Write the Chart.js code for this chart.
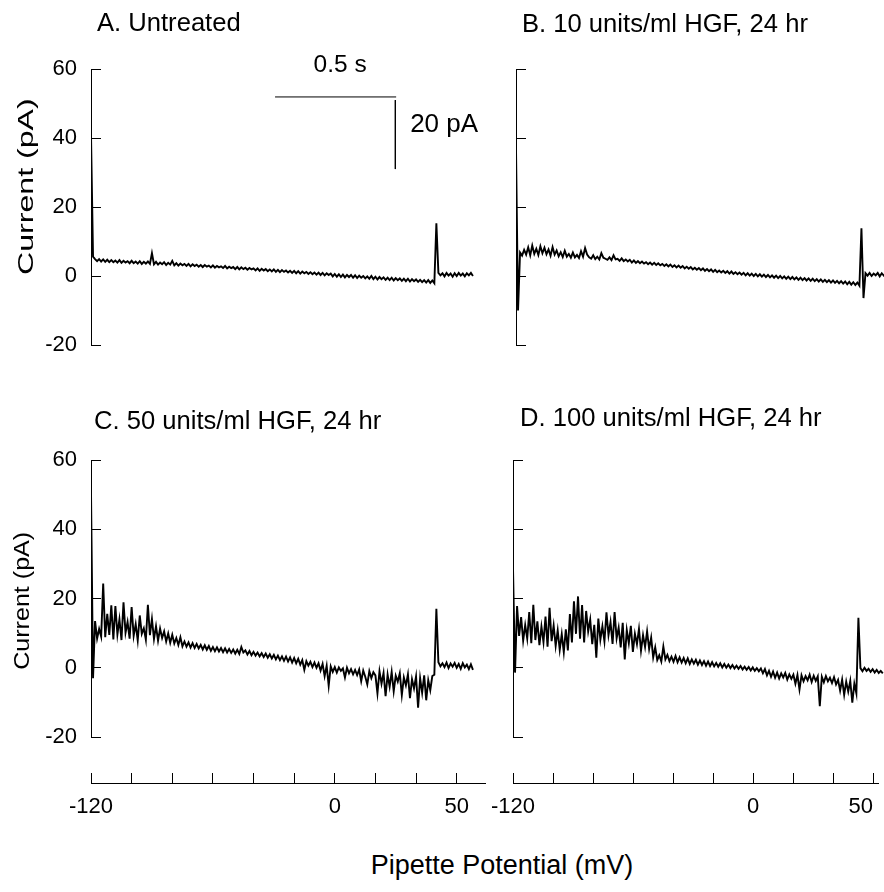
<!DOCTYPE html>
<html>
<head>
<meta charset="utf-8">
<script src="https://cdn.jsdelivr.net/npm/chart.js@4.4.1/dist/chart.umd.min.js"></script>
<style>
  html, body { margin: 0; padding: 0; background: #fff; overflow: hidden; }
  #figure { position: relative; width: 884px; height: 892px; }
  #figure canvas { position: absolute; }
  #xTitle {
    position: absolute; left: 502px; top: 852px; transform: translateX(-50%);
    font: 27px "Liberation Sans", Arial, sans-serif; line-height: 27px; color: #000; white-space: nowrap;
  }
</style>
</head>
<body>
<div id="figure">
  <canvas id="chartA" width="490" height="385" style="left:0;top:0"></canvas>
  <canvas id="chartB" width="459" height="385" style="left:425px;top:0"></canvas>
  <canvas id="chartC" width="490" height="397" style="left:0;top:380px"></canvas>
  <canvas id="chartD" width="462" height="397" style="left:422px;top:380px"></canvas>
  <canvas id="axisLeft" width="500" height="90" style="left:0;top:740px"></canvas>
  <canvas id="axisRight" width="464" height="90" style="left:420px;top:740px"></canvas>
  <div id="xTitle">Pipette Potential (mV)</div>
</div>
<script>
// Ramp sampled every 1 mV starting at -120 mV
const rampStart = -120;

const yTicks = [-20, 0, 20, 40, 60];
const xTickValues = [-120, -100, -80, -60, -40, -20, 0, 20, 40, 60];
const xTickLabels = ['-120', '', '', '', '', '', '0', '', '', '50'];

const panelTitles = ['A. Untreated', 'B. 10 units/ml HGF, 24 hr', 'C. 50 units/ml HGF, 24 hr', 'D. 100 units/ml HGF, 24 hr'];

// current traces (pA), one value per mV
const traceA = [
  41,
  5.6, 4.9, 4.3, 4.9, 4.2, 4.8, 4.1, 4.7, 4.0, 4.6,
  4.0, 4.5, 3.9, 4.6, 3.8, 4.4, 3.9, 4.3, 3.7, 4.4,
  3.7, 4.2, 3.6, 4.3, 3.5, 4.1, 3.6, 4.2, 3.5, 6.6,
  3.4, 4.1, 3.3, 3.9, 3.4, 4.0, 3.2, 3.8, 3.3, 4.4,
  3.1, 3.7, 3.0, 3.6, 3.1, 3.5, 2.9, 3.5, 2.8, 3.4,
  2.9, 3.3, 2.7, 3.2, 2.6, 3.2, 2.7, 3.0, 2.5, 3.1,
  2.4, 2.9, 2.5, 2.8, 2.3, 2.9, 2.2, 2.7, 2.3, 2.6,
  2.0, 2.6, 1.9, 2.5, 2.0, 2.4, 1.8, 2.3, 1.9, 2.2,
  1.6, 2.2, 1.5, 2.1, 1.6, 2.0, 1.4, 1.9, 1.3, 1.9,
  1.2, 1.8, 1.1, 1.7, 1.2, 1.6, 1.0, 1.5, 0.9, 1.5,
  0.8, 1.4, 0.7, 1.3, 0.8, 1.2, 0.6, 1.1, 0.5, 1.0,
  0.4, 1.0, 0.3, 0.9, 0.2, 0.8, 0.3, 0.7, -0.1, 0.6,
  -0.2, 0.5, -0.3, 0.4, -0.4, 0.3, -0.3, 0.3, -0.5, 0.2,
  -0.6, 0.1, -0.5, 0.0, -0.7, -0.1, -0.8, 0.0, -0.9, -0.2,
  -1.0, -0.3, -0.9, -0.4, -1.1, -0.5, -1.2, -0.5, -1.3, -0.6,
  -1.2, -0.7, -1.4, -0.8, -1.5, -0.8, -1.6, -0.9, -1.5, -1.0,
  -1.7, -1.1, -1.8, -1.2, -1.9, -1.2, -2.0, -1.3, -2.1,
  15.3,
  0.9, 0.2, 0.8, -0.1, 0.9, 0.1, 0.7, -0.2, 0.8, 0.0,
  0.9, 0.1, 0.7, -0.1, 0.8, 0.2, 0.9, 0.0
];

const traceB = [
  37, -10,
  6.8, 5.9, 7.6, 6.2, 8.3, 6.0, 8.8, 6.4, 7.9,
  6.1, 8.6, 6.6, 8.2, 6.3, 7.7, 5.9, 8.4, 6.2, 7.4,
  5.7, 6.9, 5.5, 7.3, 5.6, 6.4, 5.3, 6.8, 5.4, 6.1,
  5.2, 7.2, 5.6, 8.1, 6.2, 5.4, 5.0, 6.0, 4.9, 5.6,
  4.8, 6.6, 5.3, 5.0, 4.7, 5.4, 4.6, 6.0, 4.8, 5.0,
  4.4, 5.1, 4.3, 4.8, 4.2, 4.7, 3.9, 4.5, 3.8, 4.3,
  3.7, 4.2, 3.6, 4.0, 3.4, 3.9, 3.3, 3.8, 3.2, 3.7,
  3.1, 3.5, 2.9, 3.4, 2.8, 3.3, 2.6, 3.1, 2.5, 3.0,
  2.4, 2.9, 2.2, 2.7, 2.1, 2.6, 1.9, 2.4, 1.8, 2.3,
  1.7, 2.2, 1.5, 2.0, 1.4, 1.9, 1.2, 1.8, 1.1, 1.6,
  1.0, 1.5, 0.9, 1.4, 0.7, 1.3, 0.6, 1.1, 0.5, 1.0,
  0.4, 0.9, 0.2, 0.8, 0.1, 0.7, 0.0, 0.6, -0.1, 0.5,
  -0.2, 0.4, -0.3, 0.3, -0.4, 0.2, -0.5, 0.1, -0.6, 0.0,
  -0.7, -0.1, -0.8, -0.2, -0.9, -0.3, -1.0, -0.4, -1.1, -0.5,
  -1.2, -0.6, -1.3, -0.7, -1.4, -0.8, -1.5, -0.9, -1.6, -1.0,
  -1.7, -1.1, -1.8, -1.2, -1.9, -1.3, -2.0, -1.4, -2.1, -1.5,
  -2.2, -1.6, -2.4, -1.7, -2.5, -1.8, -2.6, -1.9, -2.8,
  13.8, -6.4,
  0.8, 0.1, 0.9, 0.0, 0.7, 0.2, 0.9, -0.1, 0.8, 0.1,
  0.7
];

const traceC = [
  51, -3,
  13.5, 8.4, 11.2, 9.0, 24.3, 8.8, 15.6, 9.5, 18.0,
  8.2, 17.8, 9.6, 14.0, 8.0, 18.9, 10.1, 13.2, 8.4, 17.5,
  9.2, 12.6, 7.9, 15.1, 9.8, 11.4, 8.1, 18.2, 9.4, 14.1,
  8.3, 12.0, 7.8, 11.3, 8.6, 10.5, 7.6, 9.9, 7.2, 9.5,
  7.0, 8.6, 6.6, 8.8, 6.2, 7.6, 6.1, 7.3, 5.8, 7.1,
  5.7, 6.9, 5.6, 6.6, 5.3, 6.5, 5.2, 6.3, 4.9, 6.0,
  4.8, 5.9, 4.7, 5.7, 4.5, 5.6, 4.4, 5.4, 4.3, 5.3,
  4.1, 5.2, 4.0, 6.0, 4.4, 5.0, 3.8, 4.8, 3.6, 4.6,
  3.5, 4.4, 3.3, 4.2, 3.1, 4.1, 2.9, 3.9, 2.7, 3.7,
  2.4, 3.5, 2.2, 3.3, 2.0, 3.2, 1.8, 3.0, 1.5, 2.8,
  1.3, 2.6, 0.9, 2.2, -0.6, 1.9, 0.6, 1.7, 0.2, 1.5,
  0.0, 1.3, -0.8, 1.1, -2.4, 0.6, -5.2, 0.4, -1.2, 0.2,
  -1.4, 0.1, -0.9, -0.2, -2.8, 0.0, -1.6, -0.4, -1.9, -0.6,
  -2.1, -0.5, -3.9, -0.8, -2.6, -4.8, -1.0, -3.0, -1.3, -2.2,
  -7.4, -1.0, -4.6, -1.5, -8.2, -2.0, -5.5, -1.2, -6.8, -2.3,
  -4.0, -1.6, -7.9, -2.8, -5.1, -1.9, -8.8, -3.3, -6.0, -2.5,
  -11.5, -3.0, -7.2, -2.2, -9.4, -3.6, -6.5, -2.4, -2.0,
  17.0,
  1.6, 0.4, 1.3, 0.2, 1.5, -0.1, 1.2, 0.3, 1.4, 0.0,
  1.1, -0.3, 1.3, 0.1, 0.9, -0.4, 1.0, -0.6
];

const traceD = [
  28.8, -1.4,
  17.8, 9.2, 14.6, 7.8, 12.3, 8.4, 16.1, 7.1, 18.2,
  8.0, 13.4, 6.5, 11.9, 7.4, 14.8, 6.1, 17.3, 7.7, 12.2,
  6.3, 10.8, 5.2, 9.7, 4.5, 11.1, 5.0, 15.5, 7.3, 19.2,
  9.8, 20.6, 8.4, 18.1, 7.3, 16.4, 10.5, 13.9, 6.8, 12.4,
  2.9, 14.2, 8.1, 12.0, 7.6, 16.0, 9.4, 13.2, 6.9, 16.1,
  8.5, 11.6, 5.9, 13.0, 2.4, 10.9, 7.1, 12.1, 4.6, 9.8,
  6.8, 11.2, 4.9, 9.4, 6.0, 10.5, 5.4, 8.7, 3.0, 5.9,
  2.2, 3.6, 1.8, 6.1, 2.4, 3.7, 1.9, 3.2, 1.7, 3.4,
  1.6, 3.0, 1.5, 2.8, 1.3, 2.7, 1.1, 2.4, 1.2, 2.3,
  0.9, 2.1, 0.8, 1.9, 0.6, 1.8, 0.5, 1.6, 0.4, 1.4,
  0.3, 1.3, 0.1, 1.1, 0.0, 0.9, -0.1, 0.8, -0.2, 0.6,
  -0.3, 0.5, -0.5, 0.3, -0.6, 0.2, -0.8, 0.1, -0.9, -0.1,
  -1.0, -0.2, -1.6, -0.4, -2.2, -0.9, -2.6, -1.1, -2.9, -1.4,
  -3.1, -1.6, -2.8, -1.5, -3.4, -1.9, -3.2, -2.0, -4.6, -2.1,
  -6.3, -2.2, -3.9, -2.4, -3.6, -2.0, -4.1, -2.3, -3.8, -2.5,
  -11.1, -2.6, -4.2, -2.4, -3.9, -2.9, -4.4, -2.7, -4.8, -3.5,
  -6.6, -3.4, -7.8, -4.0, -6.9, -3.8, -10.1, -4.6, -7.4,
  14.4,
  -0.1, -1.0, 0.0, -0.9, -0.3, -1.2, -0.4, -1.4, -0.6, -1.5,
  -0.9, -1.6
];

// scale bars in panel A (x in mV-equivalent, y in pA)
const timeBarX = [-29.4, 30.2];
const timeBarY = [51.9, 51.9];
const currentBarX = [29.8, 29.8];
const currentBarY = [51, 31];

Chart.defaults.font.family = '"Liberation Sans", Arial, sans-serif';
Chart.defaults.color = '#000';

function toPoints(values) {
  return values.map((v, i) => ({ x: rampStart + i, y: v }));
}

function zipPoints(xs, ys) {
  return xs.map((x, i) => ({ x: x, y: ys[i] }));
}

// titles, rotated y title and free annotations
const panelText = {
  id: 'panelText',
  afterDraw(chart, args, o) {
    const { ctx, chartArea, scales } = chart;
    ctx.save();
    ctx.fillStyle = '#000';
    ctx.textBaseline = 'alphabetic';
    ctx.font = '25.6px "Liberation Sans", Arial, sans-serif';
    ctx.textAlign = 'left';
    ctx.fillText(o.title, chartArea.left + o.titleDx, chartArea.top + o.titleDy);

    if (o.yTitle) {
      ctx.save();
      ctx.font = '22px "Liberation Sans", Arial, sans-serif';
      ctx.textAlign = 'center';
      ctx.textBaseline = 'middle';
      ctx.translate(chartArea.left + o.yTitle.dx, chartArea.top + o.yTitle.dy);
      ctx.rotate(-Math.PI / 2);
      ctx.scale(o.yTitle.stretch, 1);
      ctx.fillText('Current (pA)', 0, 0);
      ctx.restore();
    }

    (o.notes || []).forEach(n => {
      ctx.font = n.size + 'px "Liberation Sans", Arial, sans-serif';
      ctx.textAlign = n.align;
      ctx.fillText(n.text, scales.x.getPixelForValue(n.x), scales.y.getPixelForValue(n.y));
    });
    ctx.restore();
  }
};

function tracePanel(id, values, cfg) {
  const datasets = [{
    data: toPoints(values),
    borderColor: '#000',
    borderWidth: 1.9,
    pointRadius: 0,
    tension: 0,
    fill: false
  }].concat(cfg.extra || []);

  return new Chart(document.getElementById(id), {
    type: 'line',
    data: { datasets: datasets },
    options: {
      responsive: false,
      animation: false,
      layout: { padding: cfg.padding },
      plugins: {
        legend: { display: false },
        tooltip: { enabled: false },
        panelText: cfg.text
      },
      scales: {
        x: { type: 'linear', display: false, min: rampStart, max: cfg.xMax },
        y: {
          type: 'linear',
          min: -20,
          max: 60,
          afterBuildTicks: s => { s.ticks = yTicks.map(v => ({ value: v })); },
          afterFit: s => { s.width = 60; },
          border: { display: true, color: '#000', width: 1 },
          grid: { drawOnChartArea: false, drawTicks: true, tickLength: -10, color: '#000', lineWidth: 1 },
          ticks: { display: cfg.showLabels, padding: 24, font: { size: 22 }, color: '#000' }
        }
      }
    },
    plugins: [panelText]
  });
}

function axisPanel(id, xMax, padding, inner) {
  return new Chart(document.getElementById(id), {
    type: 'line',
    data: { datasets: [] },
    options: {
      responsive: false,
      animation: false,
      layout: { padding: padding },
      plugins: { legend: { display: false }, tooltip: { enabled: false } },
      scales: {
        x: {
          type: 'linear',
          position: 'bottom',
          min: rampStart,
          max: xMax,
          afterBuildTicks: s => {
            const t = xTickValues.map(v => ({ value: v }));
            // blank leading tick so that 'inner' only pulls the last label in
            if (inner) t.unshift({ value: xTickValues[0], blank: true });
            s.ticks = t;
          },
          afterFit: s => { s.height = 40; },
          border: { display: true, color: '#000', width: 1 },
          grid: { drawOnChartArea: true, drawTicks: false, color: '#000', lineWidth: 1 },
          ticks: {
            autoSkip: false,
            maxRotation: 0,
            align: inner ? 'inner' : 'center',
            padding: 11,
            font: { size: 22 },
            color: '#000',
            callback: (value, index, ticks) => ticks[index].blank ? '' : xTickLabels[xTickValues.indexOf(value)]
          }
        },
        y: { display: false, min: 0, max: 1 }
      }
    }
  });
}

// bottom padding 40 leaves room for the half-height of the lowest tick label
tracePanel('chartA', traceA, {
  xMax: 70,
  padding: { left: 31, right: 13, top: 69, bottom: 40 },
  showLabels: true,
  extra: [
    { data: zipPoints(timeBarX, timeBarY), borderColor: '#000', borderWidth: 1, pointRadius: 0 },
    { data: zipPoints(currentBarX, currentBarY), borderColor: '#000', borderWidth: 1, pointRadius: 0 }
  ],
  text: {
    title: panelTitles[0], titleDx: 6, titleDy: -38,
    yTitle: { dx: -64, dy: 117.7, stretch: 1.46 },
    notes: [
      { text: '0.5 s', x: 2.6, y: 59.2, align: 'center', size: 24.5 },
      { text: '20 pA', x: 37.1, y: 41.6, align: 'left', size: 26 }
    ]
  }
});

tracePanel('chartB', traceB, {
  xMax: 61.1,
  padding: { left: 31, right: 0, top: 69, bottom: 40 },
  showLabels: false,
  text: { title: panelTitles[1], titleDx: 6, titleDy: -37 }
});

tracePanel('chartC', traceC, {
  xMax: 70,
  padding: { left: 31, right: 13, top: 80, bottom: 40 },
  showLabels: true,
  text: {
    title: panelTitles[2], titleDx: 3, titleDy: -31,
    yTitle: { dx: -67.7, dy: 140.8, stretch: 1.14 }
  }
});

tracePanel('chartD', traceD, {
  xMax: 62.6,
  padding: { left: 31, right: 0, top: 80, bottom: 40 },
  showLabels: false,
  text: { title: panelTitles[3], titleDx: 7, titleDy: -34 }
});

axisPanel('axisLeft', 73.9, { left: 91, right: 15, top: 33, bottom: 7 }, false);
axisPanel('axisRight', 62.6, { left: 93, right: 0, top: 33, bottom: 7 }, true);
</script>
</body>
</html>
